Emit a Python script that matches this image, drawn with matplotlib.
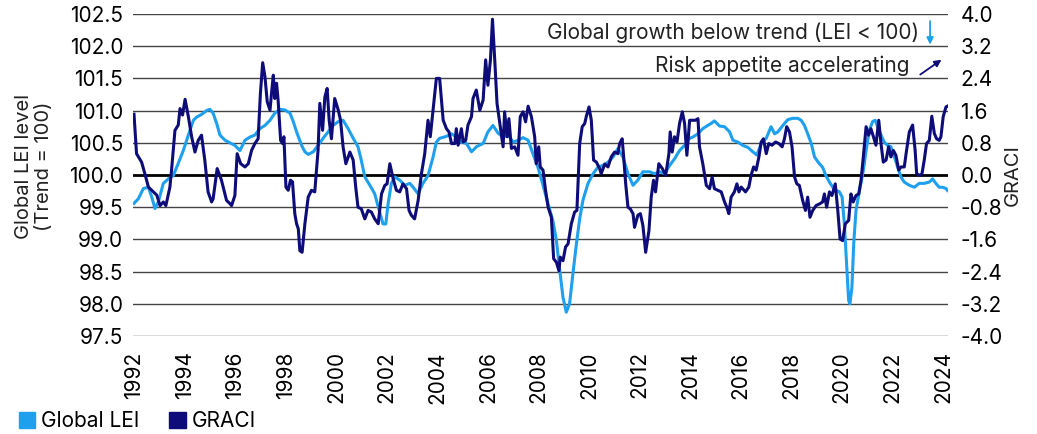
import matplotlib
matplotlib.use("Agg")
import matplotlib.pyplot as plt
from matplotlib.patches import Patch
import numpy as np

plt.rcParams['font.family'] = ['Inter', 'DejaVu Sans']
plt.rcParams['axes.unicode_minus'] = False

# Global LEI (left axis)
lei_t = [1992.0, 1992.17, 1992.37, 1992.57, 1992.7, 1992.83, 1992.96, 1993.16, 1993.36, 1993.55,
         1993.75, 1993.95, 1994.15, 1994.35, 1994.48, 1994.67, 1994.87, 1995.0, 1995.13, 1995.27,
         1995.4, 1995.6, 1995.79, 1995.99, 1996.19, 1996.39, 1996.59, 1996.78, 1996.98, 1997.18,
         1997.38, 1997.57, 1997.77, 1997.97, 1998.17, 1998.3, 1998.43, 1998.63, 1998.76, 1998.89,
         1999.09, 1999.28, 1999.48, 1999.68, 1999.88, 2000.08, 2000.27, 2000.47, 2000.67, 2000.86,
         2000.99, 2001.13, 2001.33, 2001.52, 2001.72, 2001.85, 2001.96, 2002.05, 2002.18, 2002.32,
         2002.51, 2002.71, 2002.91, 2003.04, 2003.24, 2003.43, 2003.63, 2003.83, 2003.96, 2004.09,
         2004.36, 2004.56, 2004.75, 2004.95, 2005.15, 2005.35, 2005.55, 2005.81, 2006.0, 2006.2,
         2006.4, 2006.6, 2006.8, 2007.0, 2007.19, 2007.39, 2007.59, 2007.78, 2007.98, 2008.18,
         2008.38, 2008.57, 2008.71, 2008.84, 2008.97, 2009.1, 2009.23, 2009.36, 2009.5, 2009.63,
         2009.76, 2009.96, 2010.16, 2010.35, 2010.55, 2010.75, 2010.95, 2011.14, 2011.34, 2011.54,
         2011.74, 2011.93, 2012.13, 2012.4, 2012.59, 2012.79, 2012.99, 2013.19, 2013.38, 2013.58,
         2013.78, 2013.98, 2014.11, 2014.31, 2014.5, 2014.7, 2014.83, 2014.96, 2015.16, 2015.36,
         2015.56, 2015.69, 2015.89, 2016.08, 2016.28, 2016.48, 2016.64, 2016.81, 2017.01, 2017.2,
         2017.34, 2017.47, 2017.67, 2017.86, 2018.06, 2018.26, 2018.39, 2018.52, 2018.65, 2018.79,
         2018.92, 2019.08, 2019.24, 2019.37, 2019.51, 2019.64, 2019.77, 2019.9, 2020.01, 2020.1,
         2020.19, 2020.27, 2020.32, 2020.4, 2020.47, 2020.56, 2020.69, 2020.85, 2020.96, 2021.09,
         2021.22, 2021.32, 2021.42, 2021.55, 2021.68, 2021.81, 2021.94, 2022.08, 2022.21, 2022.34,
         2022.47, 2022.67, 2022.87, 2023.06, 2023.26, 2023.46, 2023.59, 2023.72, 2023.85, 2023.98,
         2024.12, 2024.18]
lei_v = [99.56, 99.63, 99.79, 99.81, 99.66, 99.48, 99.58, 99.87, 99.94, 99.99,
         100.18, 100.38, 100.62, 100.85, 100.90, 100.94, 101.00, 101.02, 100.96, 100.80,
         100.62, 100.54, 100.50, 100.46, 100.38, 100.54, 100.59, 100.62, 100.72, 100.77,
         100.85, 100.96, 101.02, 101.01, 100.96, 100.83, 100.67, 100.46, 100.36, 100.32,
         100.36, 100.46, 100.57, 100.67, 100.77, 100.83, 100.85, 100.72, 100.57, 100.44,
         100.23, 99.97, 99.84, 99.71, 99.42, 99.24, 99.24, 99.55, 99.87, 99.97,
         99.92, 99.84, 99.87, 99.81, 99.71, 99.87, 99.99, 100.28, 100.51, 100.57,
         100.60, 100.64, 100.59, 100.51, 100.49, 100.36, 100.44, 100.49, 100.67, 100.77,
         100.65, 100.59, 100.62, 100.51, 100.54, 100.58, 100.54, 100.33, 100.12, 99.84,
         99.55, 99.29, 98.98, 98.52, 98.10, 97.87, 98.00, 98.46, 98.93, 99.32,
         99.61, 99.87, 100.02, 100.12, 100.15, 100.20, 100.28, 100.41, 100.28, 100.02,
         99.84, 99.92, 100.05, 100.05, 100.02, 100.05, 100.02, 100.15, 100.25, 100.38,
         100.46, 100.57, 100.59, 100.64, 100.72, 100.77, 100.80, 100.84, 100.76, 100.75,
         100.67, 100.54, 100.51, 100.46, 100.43, 100.36, 100.31, 100.49, 100.57, 100.75,
         100.64, 100.67, 100.77, 100.86, 100.88, 100.88, 100.85, 100.77, 100.64, 100.49,
         100.28, 100.19, 100.12, 99.99, 99.89, 99.81, 99.76, 99.74, 99.66, 99.24,
         98.62, 98.05, 98.00, 98.26, 98.93, 99.45, 99.74, 100.07, 100.38, 100.70,
         100.83, 100.85, 100.75, 100.62, 100.51, 100.46, 100.44, 100.28, 100.12, 99.97,
         99.89, 99.84, 99.81, 99.87, 99.87, 99.89, 99.94, 99.87, 99.81, 99.81,
         99.79, 99.76]

# GRACI (right axis)
graci_t = [1992.0, 1992.1, 1992.3, 1992.43, 1992.57, 1992.7, 1992.9, 1993.03, 1993.16, 1993.26,
           1993.42, 1993.49, 1993.62, 1993.75, 1993.82, 1993.92, 1994.02, 1994.15, 1994.28, 1994.41,
           1994.54, 1994.67, 1994.8, 1994.93, 1995.07, 1995.13, 1995.29, 1995.46, 1995.66, 1995.79,
           1995.86, 1995.99, 1996.08, 1996.22, 1996.39, 1996.52, 1996.65, 1996.78, 1996.91, 1997.0,
           1997.09, 1997.18, 1997.27, 1997.38, 1997.44, 1997.51, 1997.57, 1997.64, 1997.7, 1997.8,
           1997.88, 1997.93, 1998.01, 1998.1, 1998.19, 1998.27, 1998.36, 1998.43, 1998.5, 1998.56,
           1998.65, 1998.76, 1998.89, 1999.02, 1999.15, 1999.28, 1999.35, 1999.46, 1999.55, 1999.64,
           1999.72, 1999.81, 1999.94, 2000.08, 2000.17, 2000.27, 2000.38, 2000.54, 2000.67, 2000.77,
           2000.86, 2000.99, 2001.13, 2001.26, 2001.39, 2001.52, 2001.66, 2001.79, 2001.92, 2002.01,
           2002.12, 2002.25, 2002.38, 2002.51, 2002.64, 2002.78, 2002.88, 2002.97, 2003.1, 2003.24,
           2003.37, 2003.5, 2003.63, 2003.72, 2003.83, 2003.96, 2004.09, 2004.23, 2004.36, 2004.46,
           2004.56, 2004.69, 2004.75, 2004.82, 2004.95, 2005.02, 2005.12, 2005.21, 2005.35, 2005.41,
           2005.54, 2005.68, 2005.81, 2005.91, 2006.0, 2006.1, 2006.18, 2006.27, 2006.36, 2006.47,
           2006.6, 2006.66, 2006.76, 2006.83, 2006.93, 2007.06, 2007.19, 2007.28, 2007.39, 2007.49,
           2007.59, 2007.72, 2007.85, 2007.91, 2008.01, 2008.07, 2008.18, 2008.28, 2008.38, 2008.51,
           2008.6, 2008.71, 2008.81, 2008.86, 2008.97, 2009.07, 2009.17, 2009.3, 2009.43, 2009.52,
           2009.63, 2009.73, 2009.83, 2009.89, 2010.0, 2010.09, 2010.18, 2010.29, 2010.42, 2010.48,
           2010.62, 2010.75, 2010.88, 2011.01, 2011.14, 2011.21, 2011.31, 2011.37, 2011.45, 2011.54,
           2011.63, 2011.74, 2011.8, 2011.93, 2012.03, 2012.13, 2012.24, 2012.37, 2012.46, 2012.55,
           2012.63, 2012.76, 2012.9, 2013.03, 2013.16, 2013.21, 2013.29, 2013.38, 2013.48, 2013.58,
           2013.69, 2013.78, 2013.87, 2013.98, 2014.11, 2014.21, 2014.31, 2014.37, 2014.5, 2014.64,
           2014.77, 2014.87, 2014.96, 2015.1, 2015.23, 2015.36, 2015.45, 2015.53, 2015.62, 2015.75,
           2015.85, 2015.93, 2016.02, 2016.19, 2016.32, 2016.41, 2016.51, 2016.61, 2016.72, 2016.81,
           2016.9, 2017.01, 2017.11, 2017.24, 2017.38, 2017.51, 2017.64, 2017.73, 2017.82, 2017.93,
           2018.03, 2018.13, 2018.22, 2018.32, 2018.45, 2018.56, 2018.65, 2018.74, 2018.85, 2018.98,
           2019.14, 2019.24, 2019.31, 2019.4, 2019.51, 2019.61, 2019.74, 2019.84, 2019.93, 2020.03,
           2020.14, 2020.27, 2020.36, 2020.45, 2020.56, 2020.67, 2020.76, 2020.85, 2020.96, 2021.06,
           2021.15, 2021.25, 2021.35, 2021.46, 2021.55, 2021.64, 2021.75, 2021.85, 2021.94, 2022.04,
           2022.14, 2022.25, 2022.34, 2022.47, 2022.56, 2022.67, 2022.8, 2022.9, 2022.96, 2023.09,
           2023.17, 2023.26, 2023.35, 2023.46, 2023.56, 2023.66, 2023.75, 2023.85, 2023.92, 2024.01,
           2024.12, 2024.18]
graci_v = [1.51, 0.53, 0.32, 0.03, -0.30, -0.38, -0.50, -0.76, -0.67, -0.76,
           -0.30, 0.16, 1.11, 1.24, 1.65, 1.49, 1.88, 1.45, 0.95, 0.57,
           0.86, 0.99, 0.37, -0.42, -0.67, -0.59, 0.16, -0.13, -0.63, -0.71,
           -0.76, -0.51, 0.53, 0.28, 0.20, 0.28, 0.61, 0.78, 0.90, 2.03,
           2.79, 2.44, 1.82, 1.61, 2.03, 2.48, 1.90, 2.28, 1.86, 0.86,
           0.78, 0.95, -0.30, -0.38, -0.13, -0.17, -0.96, -1.21, -1.34, -1.88,
           -1.92, -1.21, -0.55, -0.38, -0.42, 0.61, 1.78, 1.11, 1.94, 2.15,
           1.36, 0.90, 1.90, 1.61, 1.36, 0.70, 0.28, 0.57, 0.37, -0.30,
           -0.80, -0.84, -1.09, -0.88, -0.92, -1.09, -1.21, -0.47, -0.26, -0.22,
           0.28, -0.09, -0.38, -0.42, -0.22, -0.34, -0.88, -1.00, -1.09, -0.63,
           0.03, 0.53, 1.36, 0.95, 1.61, 2.40, 2.40, 1.36, 1.15, 1.07,
           0.78, 0.78, 1.15, 0.74, 1.15, 0.82, 0.86, 1.24, 1.45, 1.90,
           2.11, 1.61, 1.86, 2.86, 2.23, 2.86, 3.87, 2.86, 1.78, 1.28,
           0.70, 1.57, 0.95, 1.40, 0.66, 0.70, 0.49, 1.45, 1.57, 1.32,
           1.71, 1.45, 0.95, 0.28, 0.70, 0.20, 0.12, -0.38, -0.80, -1.05,
           -2.08, -2.17, -2.38, -2.04, -2.13, -1.79, -1.71, -1.21, -0.92, -0.88,
           0.78, 1.20, 1.28, 1.45, 1.69, 1.36, 0.37, 0.32, 0.16, 0.03,
           0.27, 0.20, 0.45, 0.57, 0.53, 0.78, 0.90, 0.45, -0.22, -0.80,
           -0.84, -0.96, -1.30, -1.00, -0.96, -1.25, -1.92, -1.38, -0.55, -0.13,
           -0.42, 0.28, 0.16, -0.01, 0.53, 1.07, 0.57, 0.95, 0.82, 1.28,
           1.57, 1.28, 0.49, 1.36, 1.36, 1.36, 1.40, 0.70, 0.28, -0.26,
           -0.34, -0.05, -0.34, -0.38, -0.42, -0.67, -0.80, -0.96, -0.55, -0.42,
           -0.22, -0.42, -0.30, -0.42, -0.30, -0.01, 0.20, 0.12, 0.45, 0.82,
           0.90, 0.53, 0.78, 0.74, 0.82, 0.78, 0.70, 0.90, 1.20, 1.07,
           0.70, -0.05, -0.22, -0.26, -0.63, -0.88, -0.55, -1.05, -0.88, -0.76,
           -0.71, -0.67, -0.47, -0.80, -0.42, -0.51, -0.22, -0.88, -1.59, -1.63,
           -1.21, -1.13, -0.47, -0.67, -0.51, -0.47, -0.13, 0.45, 1.20, 0.99,
           1.15, 0.95, 0.74, 1.36, 0.78, 0.32, 0.37, 0.70, 0.45, 0.61,
           0.49, 0.12, 0.20, 0.20, 0.61, 1.07, 1.24, 0.61, 0.03, -0.01,
           0.03, 0.37, 0.78, 0.86, 1.46, 1.03, 0.90, 0.86, 0.95, 1.45,
           1.69, 1.71]

year_ticks = list(range(1992, 2025, 2))
lei_ticks = np.round(np.arange(97.5, 102.51, 0.5), 1)
graci_ticks = np.round(np.arange(-4.0, 4.01, 0.8), 1) + 0.0

lei_color = '#1fa0ee'
graci_color = '#0d0c78'
fs = 15
fs_label = 14.5

W, H = 1037, 434
fig = plt.figure(figsize=(W / 100, H / 100), dpi=100)
ax = fig.add_axes([133 / W, 1 - 336 / H, 815 / W, 322 / H])
ax2 = ax.twinx()

for a in (ax, ax2):
    for s in a.spines.values():
        s.set_visible(False)
    a.patch.set_visible(False)

# gridlines follow the left ticks (right ticks line up with them)
for v in lei_ticks:
    if abs(v - 100) < 1e-6:
        ax.axhline(v, color='black', lw=2.0, zorder=1)
    else:
        ax.axhline(v, color='#444444', lw=1.0, zorder=1)

ax.plot(lei_t, lei_v, color=lei_color, lw=2.2, solid_joinstyle='round', zorder=3)
ax2.plot(graci_t, graci_v, color=graci_color, lw=2.2, solid_joinstyle='round', zorder=3)

ax.set_xlim(1991.96, 2024.2)
ax.set_ylim(97.5, 102.5)
ax2.set_ylim(-4.0, 4.0)
ax.set_xticks(year_ticks)
ax.set_xticklabels([str(y) for y in year_ticks], rotation=90, fontsize=fs)
ax.set_yticks(lei_ticks)
ax.set_yticklabels(['%.1f' % v for v in lei_ticks], fontsize=fs)
ax2.set_yticks(graci_ticks)
ax2.set_yticklabels(['%.1f' % abs(v) if abs(v) < 1e-9 else '%.1f' % v for v in graci_ticks],
                    fontsize=fs)
ax.tick_params(axis='x', length=0, pad=11)
ax.tick_params(axis='y', length=0, pad=7)
ax2.tick_params(axis='y', length=0, pad=9)

fig.text(34 / W, 1 - 166 / H, 'Global LEI level\n(Trend = 100)', rotation=90,
         ha='center', va='center', fontsize=fs_label, multialignment='center', color='#222222',
         linespacing=1.1)
fig.text(1013 / W, 1 - 175 / H, 'GRACI', rotation=90, ha='center', va='center',
         fontsize=fs_label, color='#222222')

# annotations in the top right corner
ax.text(0.964, 0.941, 'Global growth below trend (LEI < 100)', transform=ax.transAxes,
        ha='right', va='center', fontsize=fs, color='#222222')
ax.annotate('', xy=(0.978, 0.905), xytext=(0.978, 0.978), xycoords='axes fraction',
            arrowprops=dict(arrowstyle='-|>', color=lei_color, lw=1.3, mutation_scale=10,
                            shrinkA=0, shrinkB=0))
ax.text(0.953, 0.840, 'Risk appetite accelerating', transform=ax.transAxes,
        ha='right', va='center', fontsize=fs, color='#222222')
ax.annotate('', xy=(0.992, 0.858), xytext=(0.966, 0.812), xycoords='axes fraction',
            arrowprops=dict(arrowstyle='-|>', color=graci_color, lw=1.3, mutation_scale=10,
                            shrinkA=0, shrinkB=0))

handles = [Patch(color=lei_color, label='Global LEI'), Patch(color=graci_color, label='GRACI')]
fig.legend(handles=handles, loc='lower left', bbox_to_anchor=(6 / W, -0.022), ncol=2,
           frameon=False, fontsize=fs, handlelength=0.8, handleheight=0.8,
           handletextpad=0.3, columnspacing=1.4, borderaxespad=0.2)

fig.savefig('out.png', dpi=100)
